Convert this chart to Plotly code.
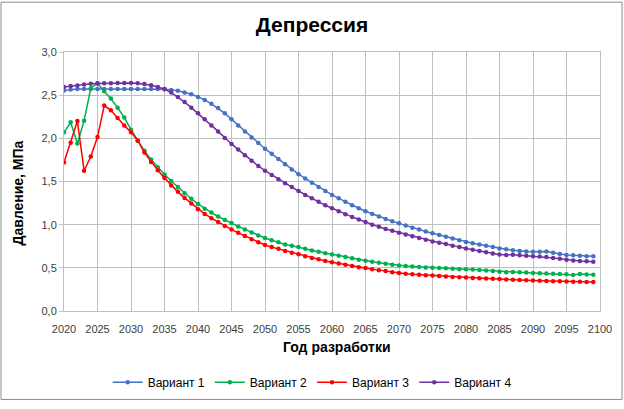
"""
Депрессия: давление по вариантам разработки, 2020-2099.
"""
import plotly.graph_objects as go

years = list(range(2020, 2100))

variant_1 = [
    2.555, 2.565, 2.57, 2.57, 2.57, 2.57, 2.57, 2.57, 2.57, 2.57,
    2.57, 2.57, 2.57, 2.57, 2.57, 2.568, 2.56, 2.55, 2.53, 2.51,
    2.48, 2.445, 2.40, 2.35, 2.29, 2.22, 2.15, 2.08, 2.01, 1.945,
    1.88, 1.82, 1.76, 1.70, 1.64, 1.585, 1.535, 1.485, 1.435, 1.39,
    1.345, 1.305, 1.265, 1.225, 1.19, 1.155, 1.125, 1.095, 1.065, 1.04,
    1.015, 0.99, 0.965, 0.945, 0.92, 0.90, 0.88, 0.86, 0.84, 0.82,
    0.80, 0.785, 0.77, 0.755, 0.74, 0.725, 0.715, 0.705, 0.695, 0.69,
    0.685, 0.685, 0.688, 0.675, 0.66, 0.65, 0.645, 0.64, 0.635, 0.635,
]

variant_2 = [
    2.07, 2.185, 1.94, 2.205, 2.58, 2.638, 2.545, 2.46, 2.355, 2.24,
    2.10, 1.97, 1.855, 1.755, 1.665, 1.58, 1.505, 1.435, 1.365, 1.30,
    1.24, 1.185, 1.14, 1.095, 1.055, 1.02, 0.98, 0.945, 0.91, 0.875,
    0.845, 0.82, 0.795, 0.77, 0.755, 0.74, 0.72, 0.70, 0.685, 0.67,
    0.655, 0.64, 0.625, 0.61, 0.595, 0.583, 0.57, 0.56, 0.548, 0.537,
    0.527, 0.52, 0.515, 0.51, 0.505, 0.50, 0.497, 0.495, 0.49, 0.485,
    0.483, 0.48, 0.475, 0.47, 0.463, 0.455, 0.45, 0.453, 0.45, 0.447,
    0.44, 0.438, 0.435, 0.432, 0.43, 0.425, 0.418, 0.428, 0.423, 0.42,
]

variant_3 = [
    1.72, 1.95, 2.20, 1.625, 1.79, 2.015, 2.38, 2.325, 2.235, 2.15,
    2.07, 1.975, 1.835, 1.725, 1.63, 1.54, 1.455, 1.38, 1.31, 1.245,
    1.18, 1.125, 1.075, 1.03, 0.985, 0.945, 0.905, 0.87, 0.83, 0.795,
    0.765, 0.74, 0.72, 0.695, 0.675, 0.658, 0.635, 0.615, 0.598, 0.58,
    0.565, 0.55, 0.535, 0.52, 0.508, 0.497, 0.485, 0.473, 0.462, 0.45,
    0.44, 0.432, 0.425, 0.42, 0.415, 0.41, 0.405, 0.40, 0.395, 0.39,
    0.387, 0.383, 0.38, 0.376, 0.373, 0.37, 0.365, 0.362, 0.358, 0.355,
    0.352, 0.35, 0.348, 0.346, 0.344, 0.342, 0.34, 0.338, 0.337, 0.335,
]

variant_4 = [
    2.595, 2.605, 2.612, 2.625, 2.632, 2.635, 2.637, 2.638, 2.64, 2.642,
    2.642, 2.638, 2.63, 2.615, 2.595, 2.57, 2.53, 2.48, 2.42, 2.355,
    2.29, 2.22, 2.15, 2.08, 2.005, 1.935, 1.87, 1.805, 1.74, 1.68,
    1.625, 1.575, 1.525, 1.48, 1.435, 1.39, 1.345, 1.305, 1.265, 1.225,
    1.19, 1.155, 1.12, 1.09, 1.06, 1.03, 1.00, 0.975, 0.95, 0.93,
    0.905, 0.885, 0.865, 0.845, 0.825, 0.805, 0.79, 0.775, 0.755, 0.74,
    0.725, 0.71, 0.695, 0.68, 0.665, 0.655, 0.65, 0.652, 0.645, 0.64,
    0.635, 0.63, 0.625, 0.615, 0.605, 0.595, 0.585, 0.58, 0.575, 0.57,
]

series = [
    ("Вариант 1", variant_1, "#4472C4"),
    ("Вариант 2", variant_2, "#00B050"),
    ("Вариант 3", variant_3, "#FF0000"),
    ("Вариант 4", variant_4, "#7030A0"),
]

FONT = "Liberation Sans"
GRID = "#BFBFBF"

fig = go.Figure()

for name, values, color in series:
    fig.add_trace(go.Scatter(
        x=years,
        y=values,
        mode='lines+markers',
        name=name,
        line=dict(color=color, width=1.5),
        marker=dict(color=color, size=4.5, symbol='circle'),
    ))

fig.update_layout(
    width=624,
    height=409,
    margin=dict(l=64, r=24, t=52, b=92),
    paper_bgcolor='white',
    plot_bgcolor='white',
    separators=', ',
    font=dict(family=FONT, size=11, color='#404040'),
    title=dict(
        text="<b>Депрессия</b>",
        x=0.5, xanchor='center',
        y=0.94, yanchor='middle',
        font=dict(family=FONT, size=21, color='#000000'),
    ),
    showlegend=True,
    legend=dict(
        orientation='h',
        x=0.463, xanchor='center',
        y=-0.275, yanchor='middle',
        font=dict(family=FONT, size=12, color='#000000'),
        itemwidth=30,
        tracegroupgap=0,
    ),
    xaxis=dict(
        range=[2020, 2100],
        dtick=5,
        tick0=2020,
        showgrid=True,
        gridcolor=GRID,
        gridwidth=1,
        showline=True,
        linecolor=GRID,
        mirror=True,
        ticks='',
        ticklabelstandoff=8,
        zeroline=False,
        automargin=False,
        tickfont=dict(family=FONT, size=11, color='#404040'),
    ),
    yaxis=dict(
        range=[0, 3],
        dtick=0.5,
        tickformat='.1f',
        showgrid=True,
        gridcolor=GRID,
        gridwidth=1,
        showline=True,
        linecolor=GRID,
        mirror=True,
        ticks='outside',
        ticklen=4,
        tickcolor=GRID,
        zeroline=False,
        automargin=False,
        tickfont=dict(family=FONT, size=11, color='#404040'),
    ),
)

# axis titles sit a little off-centre in the original, so place them directly
fig.add_annotation(
    text="<b>Год разработки</b>",
    xref='paper', yref='paper', x=0.509, y=-0.138,
    xanchor='center', yanchor='middle', showarrow=False,
    font=dict(family=FONT, size=14, color='#000000'),
)
fig.add_annotation(
    text="<b>Давление, МПа</b>",
    xref='paper', yref='paper', x=-0.0853, y=0.455,
    xanchor='center', yanchor='middle', showarrow=False, textangle=-90,
    font=dict(family=FONT, size=14, color='#000000'),
)

# outer chart border, as in the spreadsheet chart frame
fig.add_shape(
    type='rect', xref='paper', yref='paper',
    x0=-63 / 536, x1=1 + 22 / 536,
    y0=-90.5 / 265, y1=1 + 51 / 265,
    line=dict(color='#8C8C8C', width=1),
    fillcolor='rgba(0,0,0,0)',
    layer='below',
)

fig.write_html(
    "out.html",
    config={'displayModeBar': False},
    post_script="document.body.style.margin='0';document.body.style.overflow='hidden';",
)
